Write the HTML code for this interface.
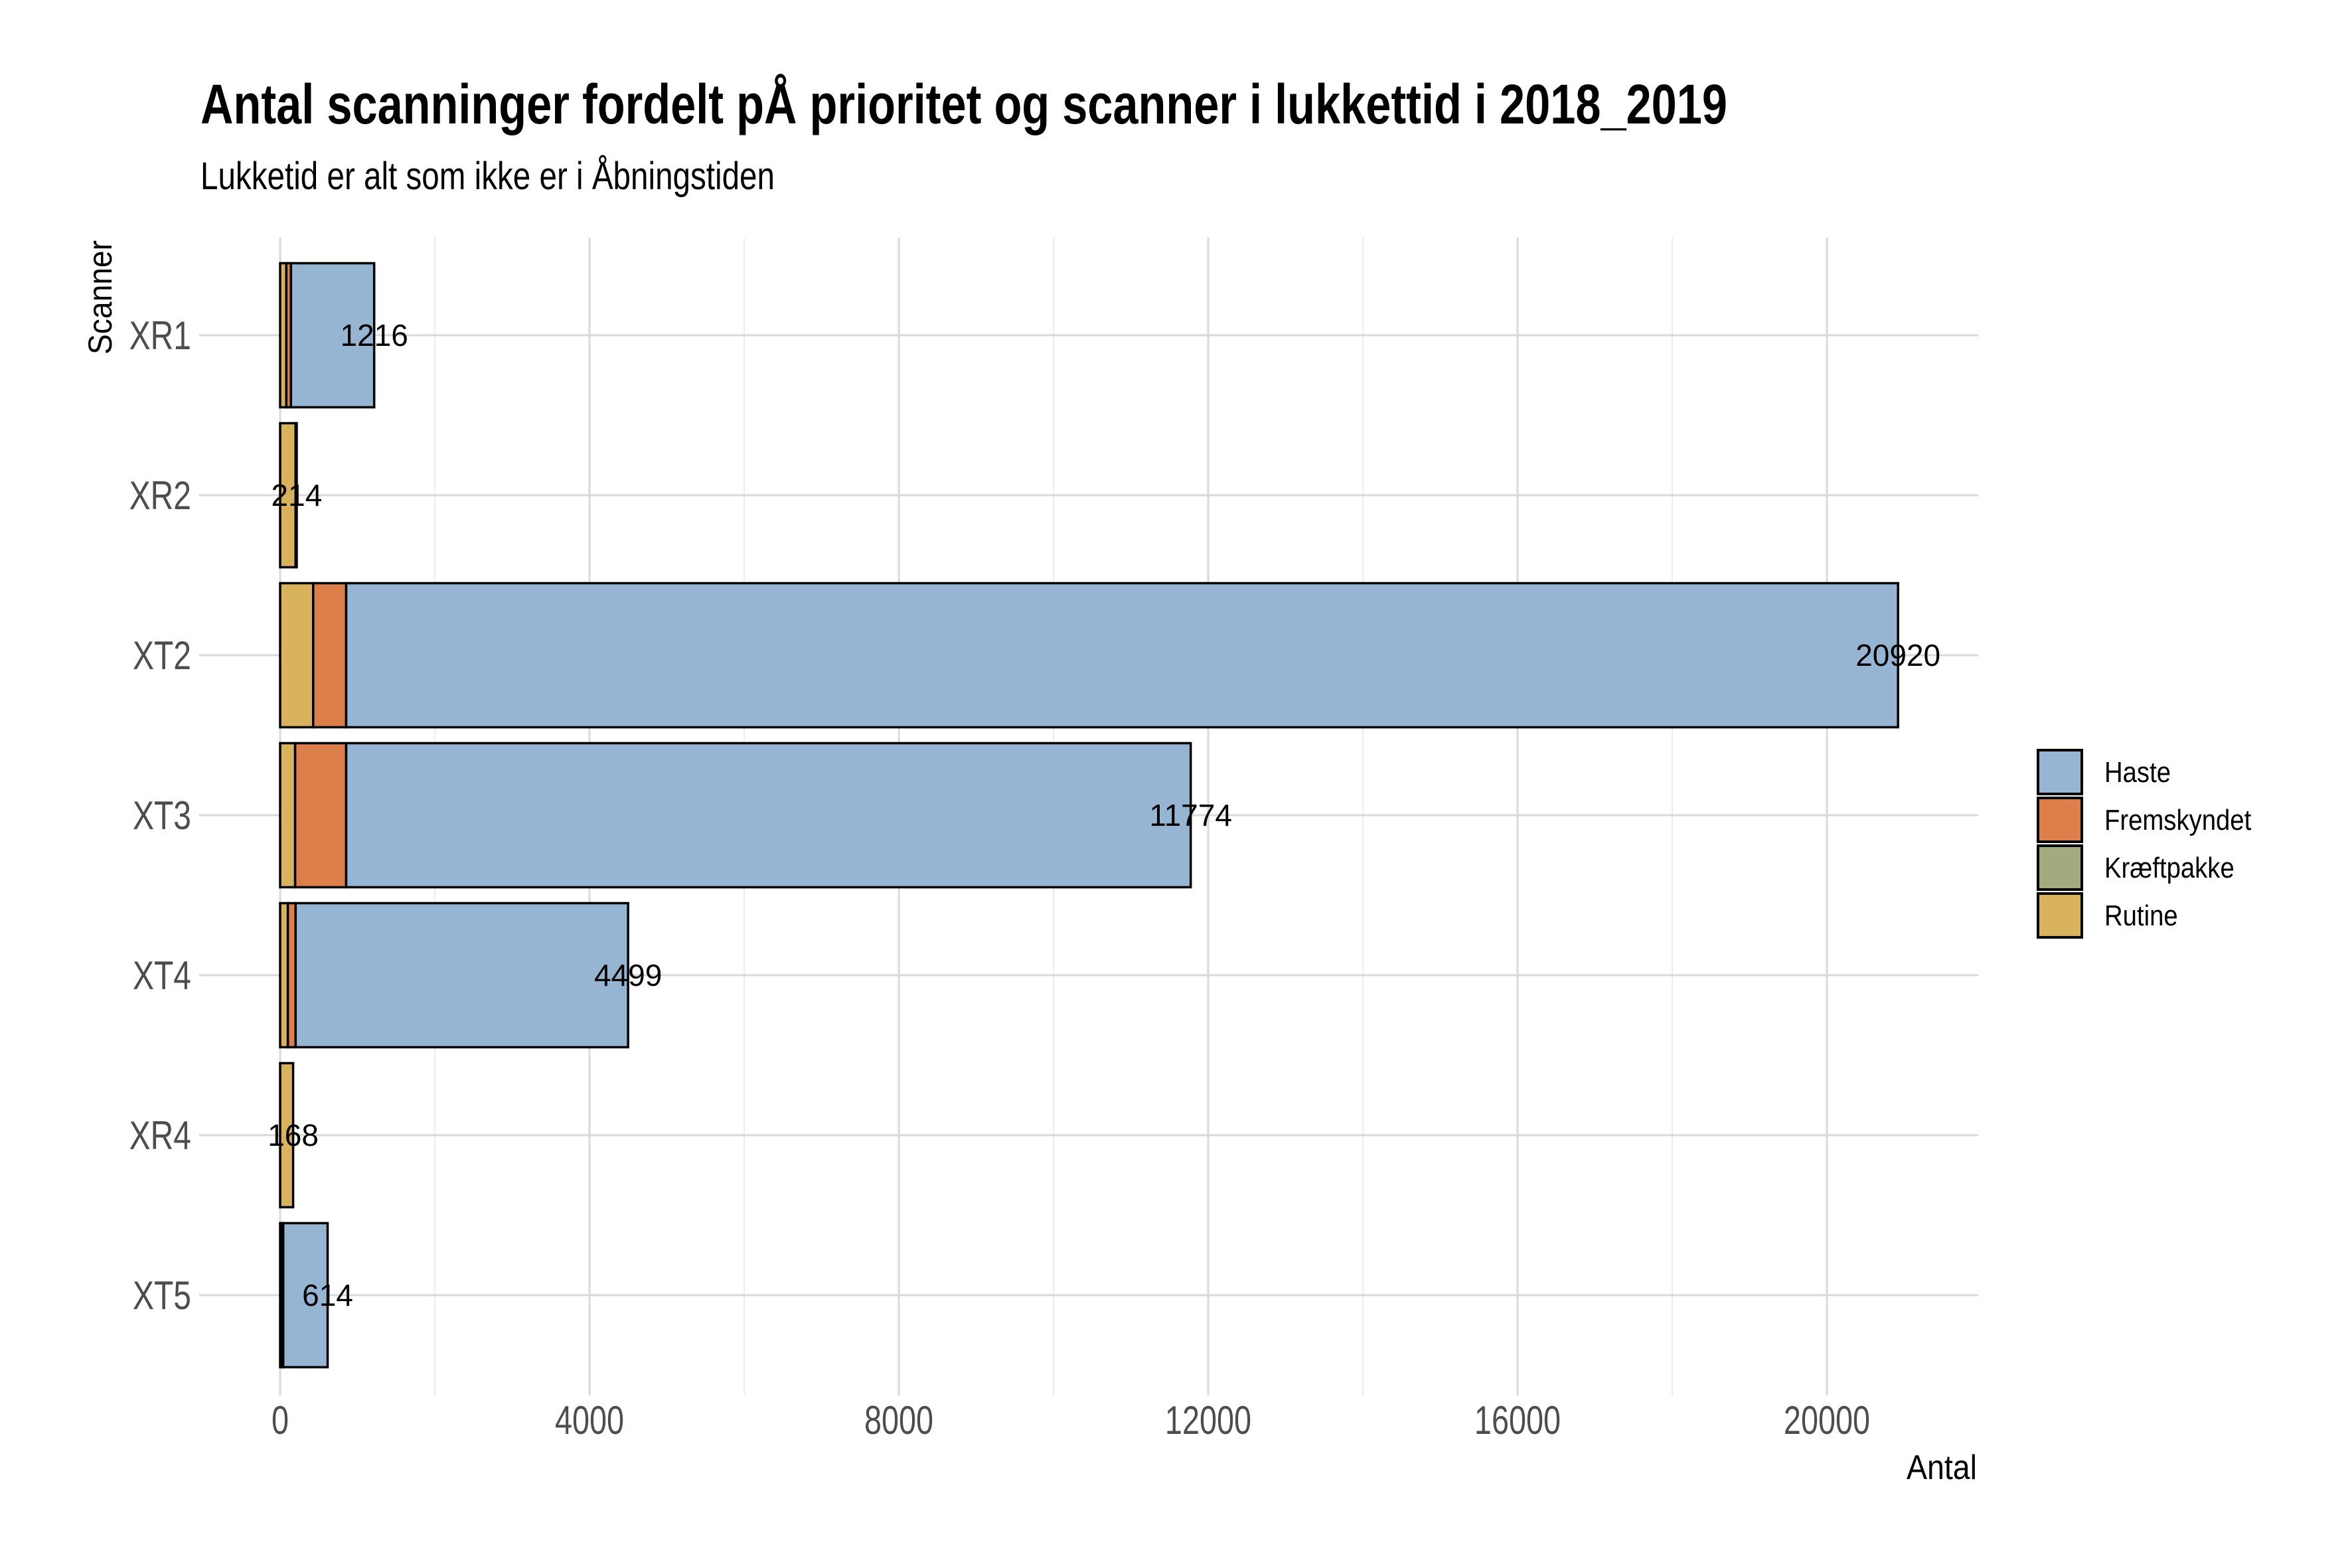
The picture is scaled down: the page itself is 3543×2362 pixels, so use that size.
<!DOCTYPE html>
<html><head><meta charset="utf-8"><style>
html,body{margin:0;padding:0;background:#fff;}
svg{display:block;font-family:"Liberation Sans",sans-serif;}
</style></head><body>
<svg id="chart" width="3543" height="2362" viewBox="0 0 3543 2362" xmlns="http://www.w3.org/2000/svg">
<rect width="3543" height="2362" fill="#fff"/>
<text x="302" y="186" font-size="84" font-weight="bold" textLength="2300" lengthAdjust="spacingAndGlyphs">Antal scanninger fordelt pÅ prioritet og scanner i lukkettid i 2018_2019</text>
<text x="302" y="285" font-size="58" textLength="865" lengthAdjust="spacingAndGlyphs">Lukketid er alt som ikke er i Åbningstiden</text>
<g id="grid"></g><g id="bars"></g><g id="labels"></g><g id="axes"></g>
<text transform="translate(168,448) rotate(-90)" text-anchor="middle" font-size="50" textLength="172" lengthAdjust="spacingAndGlyphs">Scanner</text>
<text x="2872" y="2228" font-size="52" textLength="106" lengthAdjust="spacingAndGlyphs">Antal</text>
<g id="legend"></g>
</svg>
<script>
const categories = ["XR1","XR2","XT2","XT3","XT4","XR4","XT5"];
const seriesNames = ["Rutine","Kræftpakke","Fremskyndet","Haste"];
const rutine = [80,200,427,194,100,168,20];
const kraeftpakke = [0,0,0,0,0,0,20];
const fremskyndet = [60,0,427,660,100,0,0];
const haste = [1076,14,20066,10920,4299,0,574];
const totals = [1216,214,20920,11774,4499,168,614];
const xTicks = [0,4000,8000,12000,16000,20000];
const xMinor = [2000,6000,10000,14000,18000];
const colors = {"Haste":"#95b5d2","Fremskyndet":"#dc7f4a","Kræftpakke":"#a4aa80","Rutine":"#d9b25e"};
const NS="http://www.w3.org/2000/svg";
const X0=422, PX=0.1165, PL=300, PR=2980, PT=358, PB=2102, Y0=505, STEP=241, BH=217;
function xs(v){return X0+v*PX;}
function ys(i){return Y0+i*STEP;}
function mk(tag,attrs,parent){const e=document.createElementNS(NS,tag);for(const k in attrs)e.setAttribute(k,attrs[k]);parent.appendChild(e);return e;}
function narrow(t,f){const w=t.getComputedTextLength();if(w>0){t.setAttribute('textLength',w*f);t.setAttribute('lengthAdjust','spacingAndGlyphs');}}
const grid=document.getElementById('grid');
xMinor.forEach(v=>{const l=mk('line',{x1:xs(v),x2:xs(v),y1:PT,y2:PB,stroke:'#ececec','stroke-width':2},grid);

});
xTicks.forEach(v=>{const l=mk('line',{x1:xs(v),x2:xs(v),y1:PT,y2:PB,stroke:'#d9d9d9','stroke-width':3},grid);

});
categories.forEach((c,i)=>{const l=mk('line',{x1:PL,x2:PR,y1:ys(i),y2:ys(i),stroke:'#d9d9d9','stroke-width':3},grid);

});
const bars=document.getElementById('bars');
const series=[rutine,kraeftpakke,fremskyndet,haste];
categories.forEach((c,i)=>{let acc=0;series.forEach((s,k)=>{const v=s[i];if(v<=0)return;
const r=mk('rect',{x:xs(acc),y:ys(i)-BH/2,width:v*PX,height:BH,fill:colors[seriesNames[k]],stroke:'#000','stroke-width':3.5},bars);


acc+=v;});});
const labels=document.getElementById('labels');
categories.forEach((c,i)=>{const t=mk('text',{x:xs(totals[i]),y:ys(i)+16,'text-anchor':'middle','font-size':46,fill:'#000'},labels);t.textContent=totals[i];

});
const axes=document.getElementById('axes');
categories.forEach((c,i)=>{const t=mk('text',{x:288,y:ys(i)+21,'text-anchor':'end','font-size':60,fill:'#4d4d4d'},axes);t.textContent=c;


narrow(t,0.8);});
xTicks.forEach(v=>{const t=mk('text',{x:xs(v),y:2160,'text-anchor':'middle','font-size':60,fill:'#4d4d4d'},axes);t.textContent=v;


narrow(t,0.78);});
const legend=document.getElementById('legend');
["Haste","Fremskyndet","Kræftpakke","Rutine"].forEach((n,i)=>{const y=1130+i*72;
const g=mk('g',{},legend);


mk('rect',{x:3070,y:y,width:66,height:66,fill:colors[n],stroke:'#000','stroke-width':4},g);
const t=mk('text',{x:3170,y:y+48,'font-size':44,fill:'#000'},g);t.textContent=n;
narrow(t,0.87);});
</script>
</body></html>
